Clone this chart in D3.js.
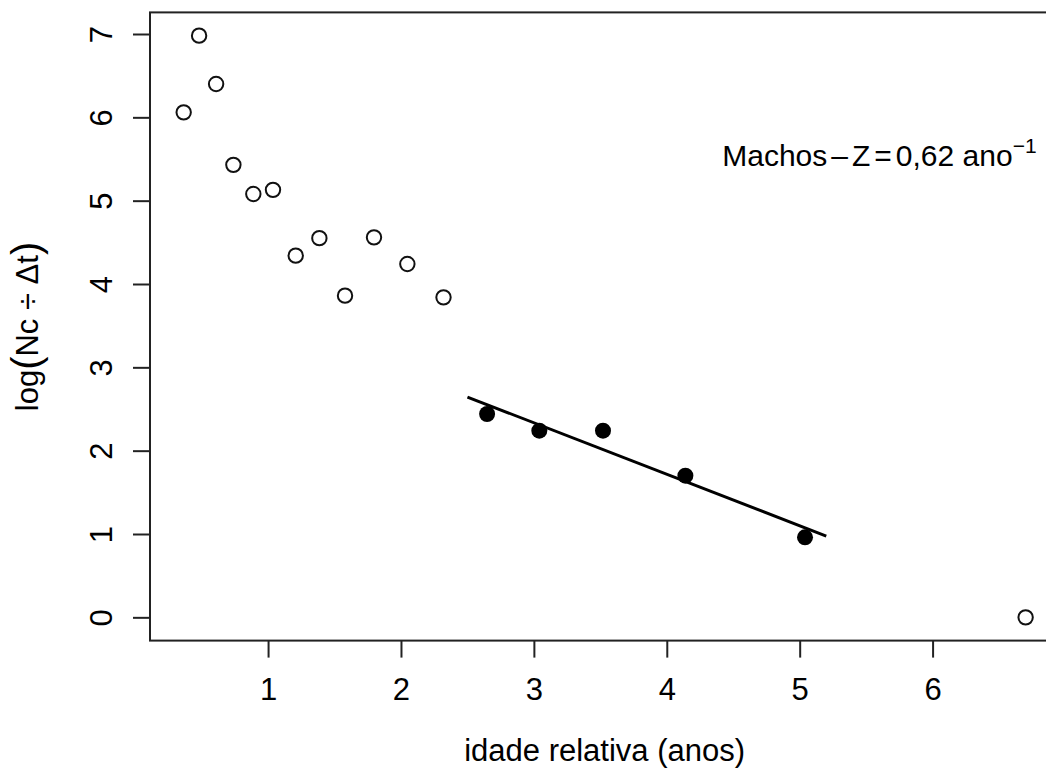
<!DOCTYPE html>
<html>
<head>
<meta charset="utf-8">
<script src="https://cdn.jsdelivr.net/npm/d3@7"></script>
<style>
  html, body { margin: 0; padding: 0; background: #fff; }
  svg { display: block; font-family: "Liberation Sans", Arial, sans-serif; }
</style>
</head>
<body>
<svg id="chart" width="1046" height="769"></svg>
<script>
// ---- data ----
const openX = [0.365, 0.481, 0.609, 0.739, 0.889, 1.037, 1.208, 1.386, 1.579, 1.797, 2.048, 2.32, 6.70];
const openY = [6.06, 6.98, 6.40, 5.43, 5.08, 5.13, 4.34, 4.55, 3.86, 4.56, 4.24, 3.84, 0.00];
const filledX = [2.648, 3.041, 3.52, 4.14, 5.04];
const filledY = [2.44, 2.24, 2.24, 1.70, 0.96];
const fitRange = [2.5, 5.2];
const xTicks = [1, 2, 3, 4, 5, 6];
const yTicks = [0, 1, 2, 3, 4, 5, 6, 7];
const xLabel = "idade relativa (anos)";
const noteX = 5.6, noteY = 5.55;

// ---- layout ----
const svg = d3.select("#chart");
const box = { left: 150, right: 1059.3, top: 12.4, bottom: 640.6 };

function padExt(arr) {
  const e = d3.extent(arr);
  const p = (e[1] - e[0]) * 0.04;
  return [e[0] - p, e[1] + p];
}
const x = d3.scaleLinear().domain(padExt(openX.concat(filledX))).range([box.left, box.right]);
const y = d3.scaleLinear().domain(padExt(openY.concat(filledY))).range([box.bottom, box.top]);

const FS = 31;
const ink = "#000";

// axes (R style: ticks only, no domain line, box drawn separately)
const xAxis = svg.append("g")
  .attr("transform", `translate(0,${box.bottom})`)
  .call(d3.axisBottom(x).tickValues(xTicks).tickSize(17).tickPadding(20).tickFormat(d3.format("d")));
xAxis.select(".domain").remove();
xAxis.selectAll(".tick line").attr("stroke", "#222").attr("stroke-width", 2);
xAxis.selectAll(".tick text").attr("font-size", FS).attr("fill", ink)
  .attr("font-family", "Liberation Sans, Arial, sans-serif").attr("dy", "0.71em");

const yAxis = svg.append("g")
  .attr("transform", `translate(${box.left},0)`)
  .call(d3.axisLeft(y).tickValues(yTicks).tickSize(17).tickFormat(d3.format("d")));
yAxis.select(".domain").remove();
yAxis.selectAll(".tick line").attr("stroke", "#222").attr("stroke-width", 2);
yAxis.selectAll(".tick text").remove();
yAxis.selectAll(".tick").append("text")
  .attr("transform", "translate(-38,0) rotate(-90)")
  .attr("text-anchor", "middle")
  .attr("font-size", FS)
  .attr("fill", ink)
  .attr("font-family", "Liberation Sans, Arial, sans-serif")
  .text(d => d);

// plot box
svg.append("rect")
  .attr("x", box.left).attr("y", box.top)
  .attr("width", box.right - box.left).attr("height", box.bottom - box.top)
  .attr("fill", "none").attr("stroke", "#222").attr("stroke-width", 2);

// x label
svg.append("text")
  .attr("x", (box.left + box.right) / 2).attr("y", 761)
  .attr("text-anchor", "middle").attr("font-size", FS).attr("fill", ink)
  .text(xLabel);

// y label: log(Nc ÷ Δt)
const yl = svg.append("text")
  .attr("transform", `translate(38,${(box.top + box.bottom) / 2}) rotate(-90)`)
  .attr("text-anchor", "middle").attr("font-size", FS).attr("fill", ink);
yl.append("tspan").text("log");
yl.append("tspan").attr("font-size", 40).attr("dy", 2).text("(");
yl.append("tspan").attr("dy", -2).text("Nc \u00F7 \u0394t");
yl.append("tspan").attr("font-size", 40).attr("dy", 2).text(")");

// regression line from filled points (least squares)
const mx = d3.mean(filledX), my = d3.mean(filledY);
const slope = d3.sum(filledX, (v, i) => (v - mx) * (filledY[i] - my)) / d3.sum(filledX, v => (v - mx) * (v - mx));
const intercept = my - slope * mx;
svg.append("path")
  .attr("d", d3.line().x(d => x(d)).y(d => y(intercept + slope * d))(fitRange))
  .attr("stroke", ink).attr("stroke-width", 3).attr("fill", "none");

// points
svg.append("g").selectAll("circle").data(openX.map((v, i) => [v, openY[i]])).join("circle")
  .attr("cx", d => x(d[0])).attr("cy", d => y(d[1])).attr("r", 7.2)
  .attr("fill", "none").attr("stroke", "#111").attr("stroke-width", 2);
svg.append("g").selectAll("circle").data(filledX.map((v, i) => [v, filledY[i]])).join("circle")
  .attr("cx", d => x(d[0])).attr("cy", d => y(d[1])).attr("r", 8)
  .attr("fill", ink).attr("stroke", "none");

// annotation
const note = svg.append("text")
  .attr("x", x(noteX)).attr("y", y(noteY) + 11)
  .attr("text-anchor", "middle").attr("font-size", 30).attr("fill", ink);
note.append("tspan").text("Machos");
note.append("tspan").attr("dx", 4).text("\u2013");
note.append("tspan").attr("dx", 4).text("Z");
note.append("tspan").attr("dx", 4).text("=");
note.append("tspan").attr("dx", 4).text("0,62 ano");
note.append("tspan").attr("font-size", 21).attr("dy", -13).text("\u22121");
</script>
</body>
</html>
